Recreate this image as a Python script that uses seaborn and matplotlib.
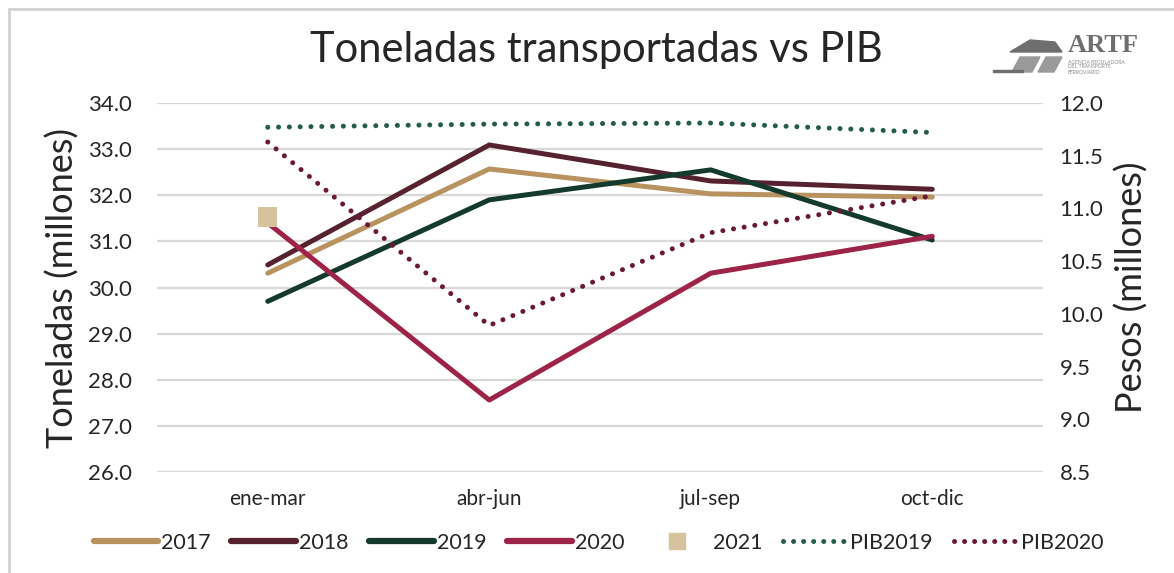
import pandas as pd
import seaborn as sns
import matplotlib.pyplot as plt
from matplotlib.lines import Line2D
from matplotlib.patches import Rectangle, Polygon

# Data
periodos = ['ene-mar', 'abr-jun', 'jul-sep', 'oct-dic']
t2017 = [30.31, 32.57, 32.03, 31.96]
t2018 = [30.49, 33.09, 32.31, 32.13]
t2019 = [29.70, 31.90, 32.55, 31.03]
t2020 = [31.40, 27.56, 30.31, 31.11]
t2021 = [31.53]
pib2019 = [11.77, 11.80, 11.81, 11.72]
pib2020 = [11.63, 9.89, 10.77, 11.12]

colors = {
    '2017': '#B8935F',
    '2018': '#57222F',
    '2019': '#143A2D',
    '2020': '#9E2348',
    '2021': '#D6C29D',
    'PIB2019': '#245C4C',
    'PIB2020': '#6A1838',
}

ton = pd.DataFrame({'periodo': periodos, '2017': t2017, '2018': t2018,
                    '2019': t2019, '2020': t2020})
ton_long = ton.melt(id_vars='periodo', var_name='serie', value_name='valor')
pib = pd.DataFrame({'periodo': periodos, 'PIB2019': pib2019, 'PIB2020': pib2020})
pib_long = pib.melt(id_vars='periodo', var_name='serie', value_name='valor')

sns.set_style('white')
plt.rcParams['font.family'] = ['Lato', 'DejaVu Sans']
txt = '#262626'

fig = plt.figure(figsize=(11.74, 5.73), dpi=100)
ax = fig.add_axes([157 / 1174, 1 - 472 / 573, 886 / 1174, 369 / 573])
ax2 = ax.twinx()

sns.lineplot(data=ton_long, x='periodo', y='valor', hue='serie',
             palette=[colors[k] for k in ['2017', '2018', '2019', '2020']],
             linewidth=3.6, legend=False, ax=ax, zorder=3)
sns.scatterplot(x=periodos[:1], y=t2021, marker='s', s=190,
                color=colors['2021'], edgecolor='none', ax=ax, zorder=4)

for name in ['PIB2019', 'PIB2020']:
    sub = pib_long[pib_long['serie'] == name]
    sns.lineplot(data=sub, x='periodo', y='valor', color=colors[name],
                 linewidth=3.6, ax=ax2, legend=False)
for ln in ax2.get_lines():
    ln.set_linestyle((0, (0.01, 2.15)))
    ln.set_dash_capstyle('round')

ax.set_xlim(-0.5, 3.5)
ax.set_ylim(26, 34)
ax.set_yticks(range(26, 35))
ax.set_yticklabels([f'{v:.1f}' for v in range(26, 35)])
ax2.set_ylim(8.5, 12.0)
ax2.set_yticks([8.5, 9.0, 9.5, 10.0, 10.5, 11.0, 11.5, 12.0])
ax2.set_yticklabels([f'{v:.1f}' for v in [8.5, 9.0, 9.5, 10.0, 10.5, 11.0, 11.5, 12.0]])

ax.grid(axis='y', color='#D9D9D9', linewidth=1.6)
ax.set_axisbelow(True)
for a in (ax, ax2):
    for s in a.spines.values():
        s.set_visible(False)
    a.tick_params(length=0, labelsize=16, colors=txt)
ax.tick_params(axis='y', pad=18)
ax2.tick_params(axis='y', pad=12)
ax.tick_params(axis='x', pad=12, labelsize=15)

ax.set_xlabel('')
ax.set_ylabel('Toneladas (millones)', fontsize=26, color=txt, labelpad=6)
ax2.set_ylabel('Pesos (millones)', fontsize=26, color=txt, labelpad=8)

fig.text(0.508, 0.913, 'Toneladas transportadas vs PIB', ha='center',
         va='center', fontsize=30, color=txt)

# legend
handles = [Line2D([], [], color=colors[k], linewidth=4.5, solid_capstyle='round')
           for k in ['2017', '2018', '2019', '2020']]
handles.append(Line2D([], [], color=colors['2021'], marker='s', markersize=11,
                      linestyle='none'))
for k in ['PIB2019', 'PIB2020']:
    handles.append(Line2D([], [], color=colors[k], linewidth=3.6,
                          linestyle=(0, (0.01, 2.0)), dash_capstyle='round'))
labels = ['2017', '2018', '2019', '2020', '2021', 'PIB2019', 'PIB2020']
fig.legend(handles, labels, loc='center', bbox_to_anchor=(0.51, 1 - 543 / 573),
           ncol=7, frameon=False, fontsize=15.5, handlelength=3.0,
           handletextpad=0.15, columnspacing=0.95, labelcolor=txt)

# frame of the slide
fig.patches.append(Rectangle((9 / 1174, -0.1), 1.2, 1.1 - 9 / 573, fill=False,
                             edgecolor='#D0D0D0', linewidth=2,
                             transform=fig.transFigure, figure=fig))

# ARTF logo (approximation)
gray = '#6E6E6E'
fig.patches.append(Polygon([(1010 / 1174, 1 - 52 / 573), (1030 / 1174, 1 - 40 / 573),
                            (1055 / 1174, 1 - 42 / 573), (1062 / 1174, 1 - 52 / 573)],
                           closed=True, color=gray, transform=fig.transFigure, figure=fig))
fig.patches.append(Polygon([(1012 / 1174, 1 - 72 / 573), (1020 / 1174, 1 - 57 / 573),
                            (1040 / 1174, 1 - 57 / 573), (1032 / 1174, 1 - 72 / 573)],
                           closed=True, color='#9A9A9A', transform=fig.transFigure, figure=fig))
fig.patches.append(Polygon([(1038 / 1174, 1 - 72 / 573), (1046 / 1174, 1 - 57 / 573),
                            (1062 / 1174, 1 - 57 / 573), (1054 / 1174, 1 - 72 / 573)],
                           closed=True, color='#9A9A9A', transform=fig.transFigure, figure=fig))
fig.patches.append(Rectangle((993 / 1174, 1 - 72 / 573), 30 / 1174, 2 / 573,
                             color=gray, transform=fig.transFigure, figure=fig))
fig.text(1068 / 1174, 1 - 46 / 573, 'ARTF', fontsize=19, fontweight='bold',
         family=['Liberation Serif', 'DejaVu Serif'], color=gray, va='center')
fig.text(1068 / 1174, 1 - 67 / 573,
         'AGENCIA REGULADORA\nDEL TRANSPORTE\nFERROVIARIO', fontsize=3.6,
         color='#8A8A8A', va='center', linespacing=1.0)

fig.savefig('out.png', dpi=100)
